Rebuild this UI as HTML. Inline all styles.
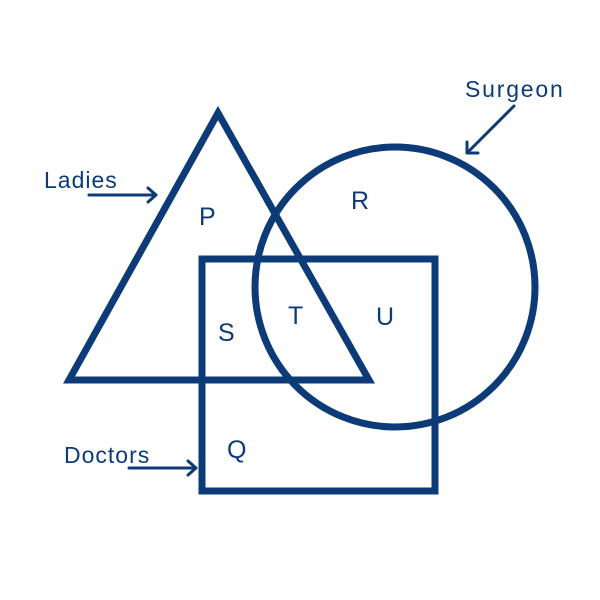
<!DOCTYPE html>
<html><head><meta charset="utf-8"><style>html,body{margin:0;padding:0;background:#fff;}svg{display:block}</style></head>
<body>
<svg width="600" height="600" viewBox="0 0 600 600" xmlns="http://www.w3.org/2000/svg">
<g fill="none" stroke="#0c3b78" stroke-width="7" stroke-linejoin="miter">
<polygon points="218,113 69,380 369,380"/>
<circle cx="395" cy="287" r="140"/>
<rect x="202" y="259" width="233" height="232"/>
</g>
<g fill="none" stroke="#0c3b78" stroke-width="3" stroke-linecap="round" stroke-linejoin="round">
<line x1="89" y1="195" x2="156" y2="195"/><polyline points="148,188 156,195 148,202"/>
<line x1="129" y1="468" x2="196" y2="468"/><polyline points="188,461 196,468 188,475"/>
<line x1="514" y1="106" x2="467" y2="153"/><polyline points="467,142 467,153 478,153"/>
</g>
<g fill="#0c3b78" font-family="Liberation Sans, sans-serif" font-size="23">
<text x="44" y="188" letter-spacing="1">Ladies</text>
<text x="64" y="463" letter-spacing="1">Doctors</text>
<text x="465" y="97" letter-spacing="1.8">Surgeon</text>
<text x="199" y="225" font-size="25">P</text>
<text x="351" y="209" font-size="25">R</text>
<text x="218" y="341" font-size="25">S</text>
<text x="288" y="324" font-size="25">T</text>
<text x="376" y="325" font-size="25">U</text>
<text x="227" y="458" font-size="25">Q</text>
</g>
</svg>
</body></html>
